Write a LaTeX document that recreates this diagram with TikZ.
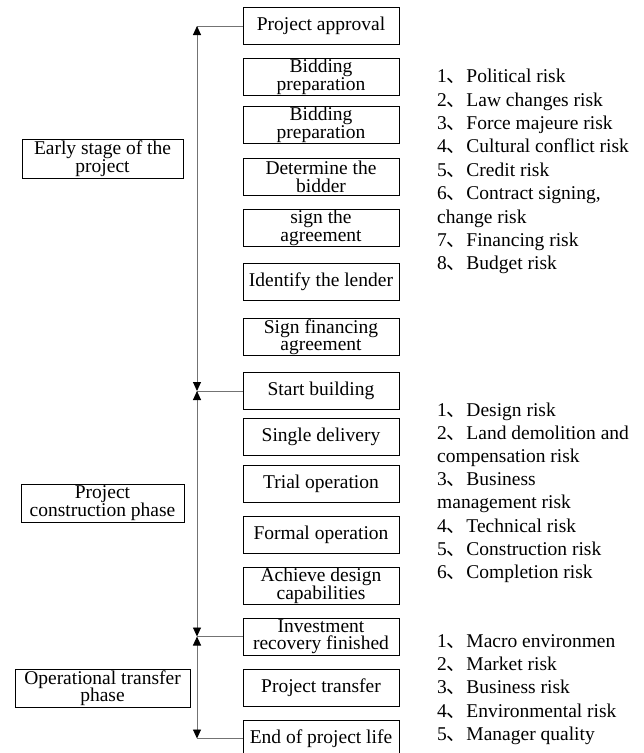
\documentclass[tikz,border=0pt]{standalone}
\usepackage{fontspec}
\setmainfont{Liberation Serif}
\newfontfamily\cjk{Noto Sans CJK SC}
\usetikzlibrary{arrows.meta}

\newcommand{\dunhao}{{\cjk 、}}
\newcommand{\boxfont}{\fontsize{19.5}{17.5}\selectfont\lineskiplimit=-20pt}
\newcommand{\riskfont}{\fontsize{19.5}{23.4}\selectfont}

\tikzset{
    stagebox/.style={draw, line width=0.9pt, minimum width=156pt, minimum height=37pt,
        inner sep=0pt, align=center, font=\boxfont},
    phasebox/.style={draw, line width=0.9pt, minimum height=38pt,
        inner sep=0pt, align=center, font=\boxfont},
    risktext/.style={anchor=base west, inner sep=0pt, font=\riskfont},
    hline/.style={draw=black!55, line width=0.9pt},
    spanarrow/.style={hline, {Triangle[width=8pt,length=9pt,color=black]}-{Triangle[width=8pt,length=9pt,color=black]}},
}

\begin{document}
\begin{tikzpicture}[x=1pt, y=-1pt]

    \useasboundingbox (0,0) rectangle (644,753);

    % Etapas del proyecto
    \node[stagebox] (approval) at (321,26)    {Project approval};
    \node[stagebox] (bidA)     at (321,77)    {Bidding\\preparation};
    \node[stagebox] (bidB)     at (321,125)   {Bidding\\preparation};
    \node[stagebox] (bidder)   at (321,177)   {Determine the\\bidder};
    \node[stagebox] (agree)    at (321,228)   {sign the\\agreement};
    \node[stagebox] (lender)   at (321,281.5) {Identify the lender};
    \node[stagebox] (finance)  at (321,337)   {Sign financing\\agreement};
    \node[stagebox] (start)    at (321,391)   {Start building};
    \node[stagebox] (single)   at (321,437)   {Single delivery};
    \node[stagebox] (trial)    at (321,484)   {Trial operation};
    \node[stagebox] (formal)   at (321,534.5) {Formal operation};
    \node[stagebox] (achieve)  at (321,586)   {Achieve design\\capabilities};
    \node[stagebox] (invest)   at (321,636.5) {Investment\\recovery finished};
    \node[stagebox] (transfer) at (321,687.5) {Project transfer};
    \node[stagebox] (lifeend)  at (321,738.5) {End of project life};

    % Fases
    \node[phasebox, minimum width=161pt, minimum height=39pt] (early) at (102.5,158.5) {Early stage of the\\project};
    \node[phasebox, minimum width=163pt] (build) at (102.5,503) {Project\\construction phase};
    \node[phasebox, minimum width=175pt] (operate) at (102.5,688) {Operational transfer\\phase};

    % Eje vertical con las flechas
    \coordinate (spine) at (197,0);
    \foreach \s in {approval,start,invest,lifeend}
        \draw[hline] (\s.west) -- (\s.west -| spine);
    \draw[spanarrow] (approval.west -| spine) -- (start.west -| spine);
    \draw[spanarrow] (start.west -| spine) -- (invest.west -| spine);
    \draw[spanarrow] (invest.west -| spine) -- (lifeend.west -| spine);

    % Riesgos
    \foreach \txt [count=\i] in {{1\dunhao Political risk},{2\dunhao Law changes risk},
        {3\dunhao Force majeure risk},{4\dunhao Cultural conflict risk},{5\dunhao Credit risk},
        {6\dunhao Contract signing,},{change risk},{7\dunhao Financing risk},{8\dunhao Budget risk}}
        \node[risktext] (riskA\i) at (437,{59.3+23.4*\i}) {\txt};

    \foreach \txt [count=\i] in {{1\dunhao Design risk},{2\dunhao Land demolition and},
        {compensation risk},{3\dunhao Business},{management risk},{4\dunhao Technical risk},
        {5\dunhao Construction risk},{6\dunhao Completion risk}}
        \node[risktext] (riskB\i) at (437,{393.4+23.1*\i}) {\txt};

    \foreach \txt [count=\i] in {{1\dunhao Macro environmen},{2\dunhao Market risk},
        {3\dunhao Business risk},{4\dunhao Environmental risk},{5\dunhao Manager quality}}
        \node[risktext] (riskC\i) at (437,{623.6+23.4*\i}) {\txt};

\end{tikzpicture}
\end{document}
